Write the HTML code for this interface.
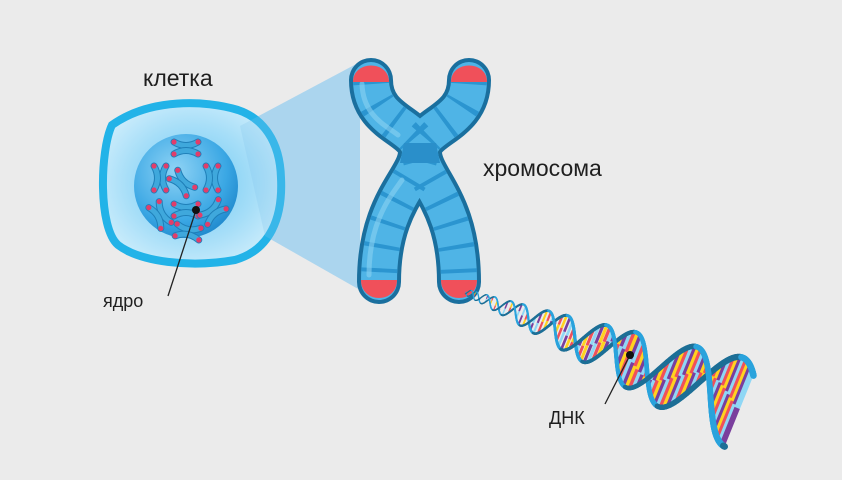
<!DOCTYPE html>
<html><head><meta charset="utf-8"><style>
html,body{margin:0;padding:0;background:#ebebeb;}
svg{display:block}
text{font-family:"Liberation Sans",sans-serif;fill:#1f1f1f}
</style></head><body>
<svg id="s" width="842" height="480" viewBox="0 0 842 480" xmlns="http://www.w3.org/2000/svg">
<defs>
<radialGradient id="cg" cx="0.5" cy="0.5" r="0.6"><stop offset="0" stop-color="#6cc8f2"/><stop offset="0.6" stop-color="#a6def8"/><stop offset="1" stop-color="#d2effc"/></radialGradient>
<radialGradient id="ng" cx="0.4" cy="0.35" r="0.7"><stop offset="0" stop-color="#8fd3f5"/><stop offset="0.7" stop-color="#3aa7e4"/><stop offset="1" stop-color="#1f88cc"/></radialGradient>
</defs>
<rect width="842" height="480" fill="#ebebeb"/>
<polygon points="240,126 360,62 360,290 265,236" fill="#a9d6f0" opacity="0.75"/>
<path d="M112,125 C150,98 205,100 238,110 C262,118 280,140 281,178 C283,218 270,250 235,260 C190,268 140,262 118,245 C98,228 100,150 112,125Z" fill="url(#cg)" stroke="#22b3e8" stroke-width="8"/>
<circle cx="186" cy="186" r="52" fill="url(#ng)"/>
<g id="mini" stroke-linecap="round" fill="none"></g>
<polygon points="240,126 360,62 360,290 265,236" fill="#7fc3ea" opacity="0.25"/>
<g stroke-linecap="round" fill="none">
<path d="M371,80 C371,125 420,125 420,152 C420,180 379,200 379,282" stroke="#1a6f9e" stroke-width="44"/>
<path d="M469,80 C469,125 420,125 420,152 C420,180 459,200 459,282" stroke="#1a6f9e" stroke-width="44"/>
<path d="M371,80 C371,125 420,125 420,152 C420,180 379,200 379,282" stroke="#4fb4e6" stroke-width="36"/>
<path d="M469,80 C469,125 420,125 420,152 C420,180 459,200 459,282" stroke="#4fb4e6" stroke-width="36"/>
<path d="M371,80 C371,125 420,125 420,152 C420,180 379,200 379,282" stroke="#2b95d0" stroke-width="36" stroke-dasharray="4 20" stroke-linecap="butt"/>
<path d="M469,80 C469,125 420,125 420,152 C420,180 459,200 459,282" stroke="#2b95d0" stroke-width="36" stroke-dasharray="4 20" stroke-linecap="butt"/>
<path d="M362,84 C363,115 385,125 398,135" stroke="#8ad2f2" stroke-width="5" opacity="0.6"/>
<path d="M369,275 C369,222 390,197 402,180" stroke="#8ad2f2" stroke-width="5" opacity="0.6"/>
</g>
<path d="M404,143 L436,143 L440,163 L400,163Z" fill="#2a8fca"/>
<path d="M353,82 C353,60 389,60 389,82 Z" fill="#f0505a"/>
<path d="M451,82 C451,60 487,60 487,82 Z" fill="#f0505a"/>
<path d="M361,280 C361,304 397,304 397,280 Z" fill="#f0505a"/>
<path d="M441,280 C441,304 477,304 477,280 Z" fill="#f0505a"/>
<g id="dna"></g>
<text x="143" y="86" font-size="23">клетка</text>
<text x="483" y="176" font-size="23">хромосома</text>
<text x="103" y="307" font-size="18">ядро</text>
<text x="549" y="424" font-size="18">ДНК</text>
<line x1="196" y1="210" x2="168" y2="296" stroke="#222" stroke-width="1.3"/>
<circle cx="196" cy="210" r="4" fill="#111"/>
<line x1="630" y1="355" x2="605" y2="404" stroke="#222" stroke-width="1.3"/>
<circle cx="630" cy="355" r="4" fill="#111"/>
</svg>
<script>
var NS="http://www.w3.org/2000/svg";
function el(p,t,a){var e=document.createElementNS(NS,t);for(var k in a)e.setAttribute(k,a[k]);p.appendChild(e);return e;}
var mg=document.getElementById('mini');
var pos=[[186,148,0],[160,178,90],[212,178,90],[182,183,45],[186,210,0],[160,215,60],[213,212,-40],[188,232,10]];
pos.forEach(function(p){
 var g=el(mg,'g',{transform:'translate('+p[0]+','+p[1]+') rotate('+p[2]+')'});
 ['M-12,-6 Q0,1 12,-6','M-12,6 Q0,-1 12,6'].forEach(function(d){
  el(g,'path',{d:d,stroke:'#1f7fb8','stroke-width':7});
  el(g,'path',{d:d,stroke:'#3fa8dc','stroke-width':5});
 });
 [[-12,-6],[12,-6],[-12,6],[12,6]].forEach(function(c){el(g,'circle',{cx:c[0],cy:c[1],r:2.6,fill:'#e23d6a'});});
});
var g=document.getElementById('dna');
var x0=466,y0=292,x1=742,y1=404;
var L=Math.hypot(x1-x0,y1-y0),ux=(x1-x0)/L,uy=(y1-y0)/L,nx=-uy,ny=ux;
var K=2.3,c=25,steps=700;
function P(s,ph){var t=s/L;var A=3+43*Math.pow(t,1.1);var phase=2*Math.PI*K*Math.log(1+s/c)+ph;var o=A*Math.sin(phase);return [x0+ux*s+nx*o,y0+uy*s+ny*o,Math.cos(phase)];}
var cols=['#f0505a','#ffd21f','#7a3e9d','#8fd7f5'];
var nr=80;
for(var i=1;i<nr;i++){var t=i/nr;var s=L*Math.pow(t,0.8);
 var a=P(s,0),b=P(s,Math.PI*0.75);var mx=(a[0]+b[0])/2,my=(a[1]+b[1])/2;var w=0.8+5*s/L;
 el(g,'line',{x1:a[0],y1:a[1],x2:mx,y2:my,stroke:cols[i%4],'stroke-width':w});
 el(g,'line',{x1:mx,y1:my,x2:b[0],y2:b[1],stroke:cols[(i*3+1)%4],'stroke-width':w});
}
[0,Math.PI*0.75].forEach(function(ph){
 var prev=P(0,ph);
 for(var i=1;i<=steps;i++){var s=L*i/steps;var cc=P(s,ph);var t=i/steps;
  el(g,'line',{x1:prev[0],y1:prev[1],x2:cc[0],y2:cc[1],stroke:(cc[2]>0?'#2aa3dc':'#1d6f96'),'stroke-width':1+5.5*t,'stroke-linecap':'round'});prev=cc;}
});
</script>
</body></html>
